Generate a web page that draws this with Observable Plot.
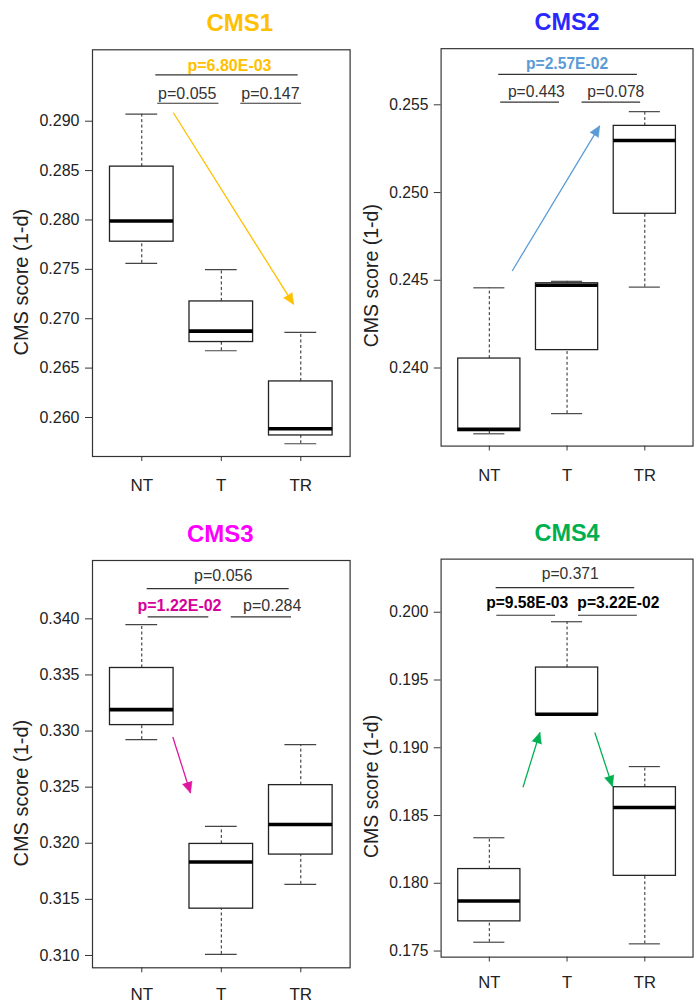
<!DOCTYPE html>
<html>
<head>
<meta charset="utf-8">
<script src="https://cdn.jsdelivr.net/npm/d3@7"></script>
<script src="https://cdn.jsdelivr.net/npm/@observablehq/plot@0.6"></script>
<style>
html, body { margin: 0; padding: 0; background: #fff; overflow: hidden; }
#wrap { position: relative; width: 694px; height: 1003px; overflow: hidden; background: #fff; }
.panel { position: absolute; }
</style>
</head>
<body>
<div id="wrap"></div>
<script>
// ---------- data ----------
const groups = ["NT", "T", "TR"];
const panelNames = ["CMS1", "CMS2", "CMS3", "CMS4"];
const titleColors = ["#FFC000", "#2828FF", "#FF00FF", "#00B050"];
const highlightColors = ["#FFC000", "#5B9BD5", "#D6009B", "#000000"];
const arrowColors = ["#FFC000", "#5B9BD5", "#E0169E", "#00B050"];
const yLabel = "CMS score (1-d)";

// box statistics per panel (NT, T, TR)
const whiskerLow  = [[0.27561, 0.26676, 0.25734], [0.23625, 0.2374, 0.24461], [0.32923, 0.31009, 0.31634], [0.17565, 0.1924, 0.17553]];
const quartile1   = [[0.2778, 0.26764, 0.25818],  [0.2364, 0.24102, 0.24879],  [0.33053, 0.31417, 0.31899], [0.17719, 0.1924, 0.18055]];
const medians     = [[0.2799, 0.26874, 0.25886],  [0.23651, 0.24472, 0.25296], [0.33191, 0.31833, 0.32167], [0.1787, 0.19248, 0.1856]];
const quartile3   = [[0.2854, 0.27175, 0.26365],  [0.24054, 0.24483, 0.2538],  [0.33562, 0.31994, 0.32518], [0.18105, 0.19592, 0.18709]];
const whiskerHigh = [[0.29071, 0.27497, 0.26861], [0.24457, 0.24494, 0.25461], [0.33949, 0.32151, 0.32879], [0.18336, 0.1993, 0.18861]];

// y axis
const yDomains = [[0.25605, 0.29723], [0.23555, 0.2582], [0.3089, 0.3452], [0.17455, 0.20392]];
const yTicks = [
  [0.260, 0.265, 0.270, 0.275, 0.280, 0.285, 0.290],
  [0.240, 0.245, 0.250, 0.255],
  [0.310, 0.315, 0.320, 0.325, 0.330, 0.335, 0.340],
  [0.175, 0.180, 0.185, 0.190, 0.195, 0.200]
];

// significance bars (x in group units, y in score units)
const sigBars = [
  [{x1: 1.176, x2: 2.967, y: 0.2947}, {x1: 1.2, x2: 1.97, y: 0.29182}, {x1: 2.245, x2: 3.01, y: 0.29182}],
  [{x1: 1.121, x2: 2.904, y: 0.25673}, {x1: 1.146, x2: 1.903, y: 0.25515}, {x1: 2.193, x2: 2.946, y: 0.25515}],
  [{x1: 1.068, x2: 2.854, y: 0.3427}, {x1: 1.08, x2: 1.843, y: 0.34018}, {x1: 2.125, x2: 2.883, y: 0.34018}],
  [{x1: 1.088, x2: 2.87, y: 0.20182}, {x1: 1.096, x2: 1.852, y: 0.19978}, {x1: 2.147, x2: 2.904, y: 0.19978}]
];
// plain p-value labels
const sigPlain = [
  [{x: 1.571, y: 0.29277, text: "p=0.055"}, {x: 2.619, y: 0.29277, text: "p=0.147"}],
  [{x: 1.605, y: 0.25575, text: "p=0.443"}, {x: 2.627, y: 0.25575, text: "p=0.078"}],
  [{x: 2.024, y: 0.34386, text: "p=0.056"}, {x: 2.64, y: 0.34119, text: "p=0.284"}],
  [{x: 2.041, y: 0.20281, text: "p=0.371"}]
];
// significant (bold, coloured) p-value labels
const sigBold = [
  [{x: 2.103, y: 0.29564, text: "p=6.80E-03"}],
  [{x: 2.0, y: 0.25732, text: "p=2.57E-02"}],
  [{x: 1.474, y: 0.34119, text: "p=1.22E-02"}],
  [{x: 1.487, y: 0.20067, text: "p=9.58E-03"}, {x: 2.66, y: 0.20067, text: "p=3.22E-02"}]
];
// trend arrows
const trendArrows = [
  [{x1: 1.395, y1: 0.29088, x2: 2.91, y2: 0.27145}],
  [{x1: 1.294, y1: 0.24553, x2: 2.42, y2: 0.2538}],
  [{x1: 1.39, y1: 0.32947, x2: 1.613, y2: 0.32447}],
  [{x1: 1.433, y1: 0.18709, x2: 1.651, y2: 0.19113}, {x1: 2.357, y1: 0.19113, x2: 2.584, y2: 0.18714}]
];

// ---------- layout ----------
const layouts = [
  {left: 0,   top: 0,   width: 351, height: 500, mt: 49.3, mb: 44,   ml: 92,   mr: 1.4, titleDx: 18.5, xPad: 17},
  {left: 351, top: 0,   width: 351, height: 500, mt: 49.3, mb: 44,   ml: 91.7, mr: 1.5, titleDx: 0,    xPad: 19},
  {left: 0,   top: 500, width: 351, height: 503, mt: 60,   mb: 35.7, ml: 92,   mr: 1.4, titleDx: -1,   xPad: 15},
  {left: 351, top: 500, width: 351, height: 503, mt: 60,   mb: 35.7, ml: 91.7, mr: 1.5, titleDx: 0,    xPad: 15}
];
const xDomain = [0.38, 3.62];
const font = "'Liberation Sans', Arial, Helvetica, sans-serif";
const wrap = document.getElementById("wrap");

panelNames.forEach((name, p) => {
  const L = layouts[p];
  const rows = groups.map((g, i) => ({
    g, pos: i + 1,
    lo: whiskerLow[p][i], q1: quartile1[p][i], med: medians[p][i],
    q3: quartile3[p][i], hi: whiskerHigh[p][i]
  }));
  const innerW = L.width - L.ml - L.mr;
  const innerH = L.height - L.mt - L.mb;
  const kx = innerW / (xDomain[1] - xDomain[0]);
  const ky = innerH / (yDomains[p][1] - yDomains[p][0]);
  const angle = (a) => {
    const dxp = (a.x2 - a.x1) * kx;
    const dyp = -(a.y2 - a.y1) * ky;
    return Math.atan2(dxp, -dyp) * 180 / Math.PI;
  };

  const chart = Plot.plot({
    width: L.width,
    height: L.height,
    marginTop: L.mt,
    marginBottom: L.mb,
    marginLeft: L.ml,
    marginRight: L.mr,
    style: {fontFamily: font, background: "transparent", color: "#222"},
    x: {type: "linear", domain: xDomain},
    y: {type: "linear", domain: yDomains[p]},
    marks: [
      Plot.axisY({ticks: yTicks[p], tickFormat: d3.format(".3f"), tickSize: 7, tickPadding: 6, fontSize: 16, label: null, stroke: "#333"}),
      Plot.axisX({ticks: [1, 2, 3], tickFormat: (d) => groups[d - 1], tickSize: 5, tickPadding: L.xPad, fontSize: 17, label: null, stroke: "#333"}),
      // whiskers
      Plot.ruleX(rows, {x: "pos", y1: "q3", y2: "hi", stroke: "#222", strokeDasharray: "3,2.5"}),
      Plot.ruleX(rows, {x: "pos", y1: "lo", y2: "q1", stroke: "#222", strokeDasharray: "3,2.5"}),
      // staples
      Plot.ruleY(rows, {y: "hi", x1: (d) => d.pos - 0.2, x2: (d) => d.pos + 0.2, stroke: "#444", strokeWidth: 1.2}),
      Plot.ruleY(rows, {y: "lo", x1: (d) => d.pos - 0.2, x2: (d) => d.pos + 0.2, stroke: "#444", strokeWidth: 1.2}),
      // boxes
      Plot.rect(rows, {x1: (d) => d.pos - 0.4, x2: (d) => d.pos + 0.4, y1: "q1", y2: "q3", fill: "white", stroke: "#222", strokeWidth: 1.3}),
      // medians
      Plot.ruleY(rows, {y: "med", x1: (d) => d.pos - 0.4, x2: (d) => d.pos + 0.4, stroke: "#000", strokeWidth: 3.6}),
      // significance bars and labels
      Plot.ruleY(sigBars[p], {y: "y", x1: "x1", x2: "x2", stroke: "#333", strokeWidth: 1.2}),
      Plot.text(sigPlain[p], {x: "x", y: "y", text: "text", fontSize: 16, fill: "#333"}),
      Plot.text(sigBold[p], {x: "x", y: "y", text: "text", fontSize: 16, fontWeight: "bold", fill: highlightColors[p]}),
      // trend arrows
      Plot.link(trendArrows[p], {x1: "x1", y1: "y1", x2: "x2", y2: "y2", stroke: arrowColors[p], strokeWidth: 1.3}),
      Plot.vector(trendArrows[p], {x: "x2", y: "y2", rotate: angle, length: 11, r: 5, shape: "spike", anchor: "end", fill: arrowColors[p], stroke: arrowColors[p], strokeWidth: 0.5}),
      // frame, title, y label
      Plot.frame({stroke: "#333", strokeWidth: 1.2}),
      Plot.text([name], {text: (d) => d, frameAnchor: "top", textAnchor: "middle", lineAnchor: "middle", dx: L.titleDx, dy: -26.3, fontSize: 24, fontWeight: "bold", fill: titleColors[p]}),
      Plot.text([yLabel], {text: (d) => d, frameAnchor: "left", textAnchor: "middle", lineAnchor: "middle", dx: -70.5, dy: 29, rotate: -90, fontSize: 20, fill: "#222"})
    ]
  });
  const div = document.createElement("div");
  div.className = "panel";
  div.style.left = L.left + "px";
  div.style.top = L.top + "px";
  div.appendChild(chart);
  wrap.appendChild(div);
});
</script>
</body>
</html>
